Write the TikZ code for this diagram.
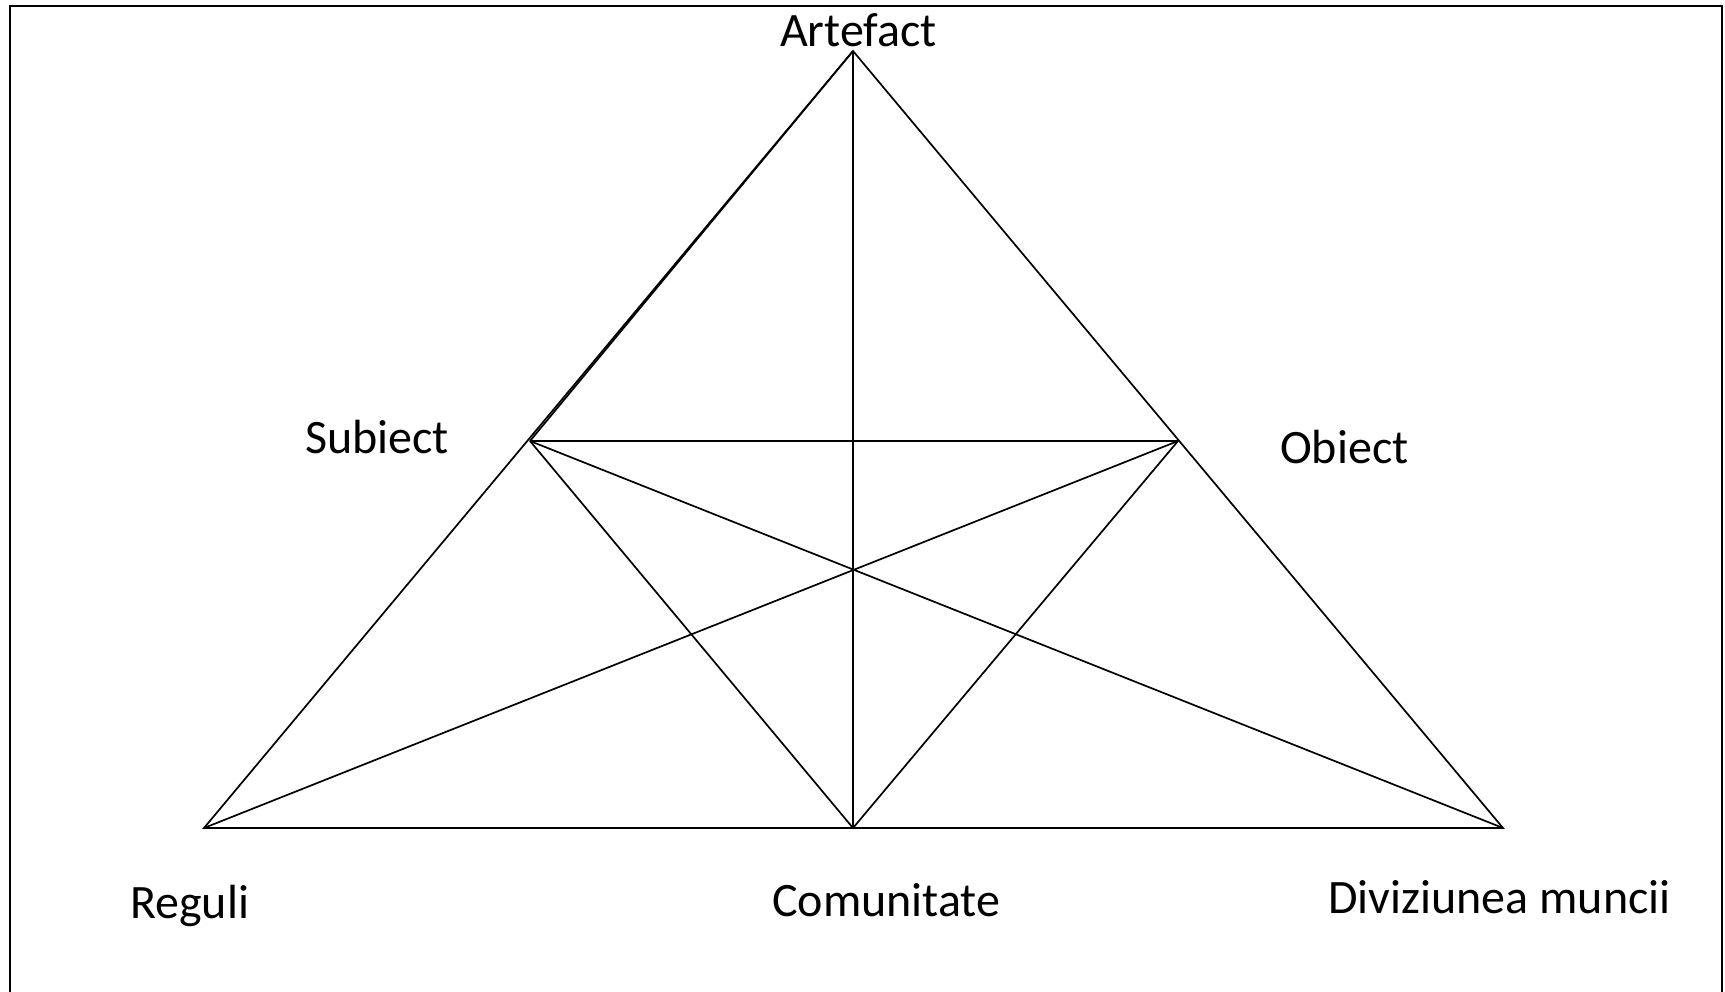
\documentclass[tikz,border=0pt]{standalone}
\usepackage{fontspec}
\setmainfont{Carlito}
\begin{document}
\begin{tikzpicture}[x=1pt,y=-1pt,
  edge/.style={draw=black,line width=1.7pt},
  frame/.style={draw=black,line width=2.6pt},
  lbl/.style={inner sep=0pt,anchor=base west,font=\fontsize{48}{57}\selectfont}]
\useasboundingbox (0,0) rectangle (1725,992);
\draw[frame] (10,995) -- (10,6) -- (1722,6) -- (1722,995);
% vertices
\coordinate (A) at (853,51);
\coordinate (S) at (530,441);
\coordinate (O) at (1178,441);
\coordinate (R) at (204,828);
\coordinate (C) at (853,828);
\coordinate (D) at (1503,828);
% labels
\node[lbl] (tA) at (780,47) {Artefact};
\node[lbl] (tS) at (305,453) {Subiect};
\node[lbl] (tO) at (1280,463) {Obiect};
\node[lbl] (tR) at (130,918) {Reguli};
\node[lbl] (tC) at (772,916) {Comunitate};
\node[lbl] (tD) at (1328,913) {Diviziunea muncii};
% connectors
\draw[edge] (A) -- (R) -- (D) -- cycle;
\draw[edge] (A) -- (S);
\draw[edge] (A) -- (C);
\draw[edge] (S) -- (O);
\draw[edge] (S) -- (C) -- (O);
\draw[edge] (S) -- (D);
\draw[edge] (O) -- (R);
\end{tikzpicture}
\end{document}
